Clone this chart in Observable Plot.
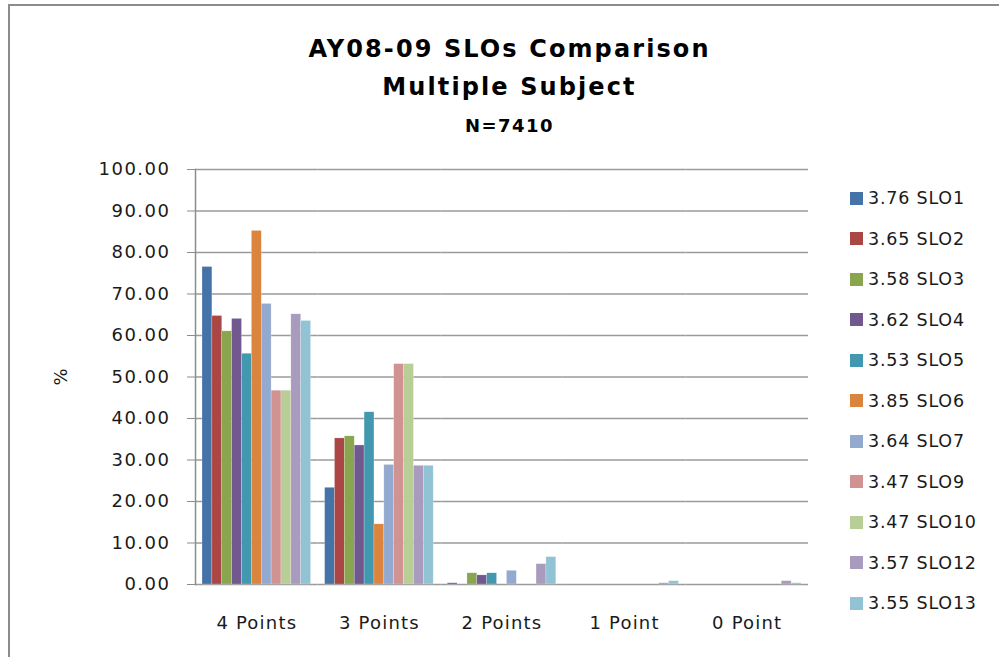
<!DOCTYPE html>
<html>
<head>
<meta charset="utf-8">
<script src="https://cdn.jsdelivr.net/npm/d3@7"></script>
<script src="https://cdn.jsdelivr.net/npm/@observablehq/plot@0.6"></script>
<style>
  html, body { margin: 0; padding: 0; background: #fff; }
  #page { position: relative; width: 999px; height: 657px; overflow: hidden; background: #fff; }
  #frame { position: absolute; left: 8px; top: 4px; width: 1000px; height: 700px;
           border-left: 2px solid #8c8c8c; border-top: 2px solid #8c8c8c; }
  #chart { position: absolute; left: 0; top: 0; }
  .title { position: absolute; left: 10px; width: 999px; text-align: center;
           font-family: "DejaVu Sans", sans-serif; font-weight: bold; color: #000; }
  #legend { position: absolute; left: 850px; top: 178px; font-family: "DejaVu Sans", sans-serif;
            font-size: 17.5px; letter-spacing: 0.8px; color: #1a1a1a; }
  .item { height: 40.5px; display: flex; align-items: center; white-space: nowrap; }
  .sw { width: 13px; height: 13px; margin-right: 5px; flex: none; }
</style>
</head>
<body>
<div id="page">
  <div id="frame"></div>
  <div id="chart"></div>
  <div class="title" style="top:37px;font-size:24px;line-height:24px;letter-spacing:2.1px;">AY08-09 SLOs Comparison</div>
  <div class="title" style="top:75px;font-size:24px;line-height:24px;letter-spacing:2.1px;">Multiple Subject</div>
  <div class="title" style="top:117px;font-size:18px;line-height:18px;letter-spacing:1.5px;">N=7410</div>
  <div id="legend"></div>
</div>
<script>
// Categories (x groups) and series (legend entries)
const categories = ["4 Points", "3 Points", "2 Points", "1 Point", "0 Point"];
const series = ["3.76 SLO1", "3.65 SLO2", "3.58 SLO3", "3.62 SLO4", "3.53 SLO5", "3.85 SLO6",
                "3.64 SLO7", "3.47 SLO9", "3.47 SLO10", "3.57 SLO12", "3.55 SLO13"];
const colors = ["#4572A7", "#AA4643", "#89A54E", "#71588F", "#4198AF", "#DB843D",
                "#93A9CF", "#D19392", "#B9CD96", "#A99BBD", "#92C3D4"];

// Percent values per category, in series order
const points4 = [76.5, 64.7, 61.0, 64.0, 55.6, 85.2, 67.6, 46.7, 46.7, 65.1, 63.5];
const points3 = [23.3, 35.2, 35.7, 33.5, 41.5, 14.5, 28.8, 53.1, 53.1, 28.6, 28.6];
const points2 = [0.3, 0.0, 2.7, 2.2, 2.7, 0.0, 3.3, 0.0, 0.0, 4.9, 6.6];
const points1 = [0.0, 0.0, 0.0, 0.0, 0.0, 0.0, 0.0, 0.0, 0.0, 0.3, 0.8];
const points0 = [0.0, 0.0, 0.0, 0.0, 0.0, 0.0, 0.0, 0.0, 0.0, 0.8, 0.3];

const yTicks = [0, 10, 20, 30, 40, 50, 60, 70, 80, 90, 100];

const valueRows = [points4, points3, points2, points1, points0];
const data = [];
categories.forEach((c, i) => {
  series.forEach((s, j) => data.push({category: c, series: s, value: valueRows[i][j]}));
});

const chart = Plot.plot({
  width: 830,
  height: 657,
  marginLeft: 195,
  marginRight: 22,
  marginTop: 169,
  marginBottom: 73,
  style: {fontFamily: "DejaVu Sans, sans-serif", background: "transparent", color: "#1a1a1a"},
  fx: {domain: categories, padding: 0, round: false, label: null, axis: null},
  x: {domain: series, paddingInner: 0, paddingOuter: 0.71, round: false, axis: null},
  y: {domain: [0, 100], axis: null},
  color: {domain: series, range: colors},
  marks: [
    Plot.ruleY(yTicks, {stroke: "#9a9a9a", strokeWidth: 1.3}),
    Plot.barY(data, {fx: "category", x: "series", y: "value", fill: "series",
                     stroke: "#ffffff", strokeWidth: 0.5, strokeOpacity: 0.45}),
    Plot.frame({anchor: "left", stroke: "#8c8c8c", strokeWidth: 1.5, facetAnchor: "left"}),
    Plot.axisY({ticks: yTicks, tickFormat: d => d.toFixed(2), tickSize: 8, tickPadding: 17,
                fontSize: 18, stroke: "#8c8c8c", fill: "#1a1a1a",
                label: "%", labelAnchor: "center", labelOffset: 141, labelArrow: "none"}),
    Plot.axisFx({anchor: "bottom", tickSize: 0, tickPadding: 32, fontSize: 18, fill: "#1a1a1a", label: null})
  ]
});
document.getElementById("chart").appendChild(chart);
chart.querySelectorAll('g[aria-label="y-axis tick label"] text').forEach(t => t.style.letterSpacing = "1.5px");
chart.querySelectorAll('g[aria-label="fx-axis tick label"] text').forEach(t => t.style.letterSpacing = "1.2px");

// Legend
const legend = document.getElementById("legend");
series.forEach((s, i) => {
  const item = document.createElement("div");
  item.className = "item";
  const sw = document.createElement("span");
  sw.className = "sw";
  sw.style.background = colors[i];
  const label = document.createElement("span");
  label.textContent = s;
  item.appendChild(sw);
  item.appendChild(label);
  legend.appendChild(item);
});
</script>
</body>
</html>
